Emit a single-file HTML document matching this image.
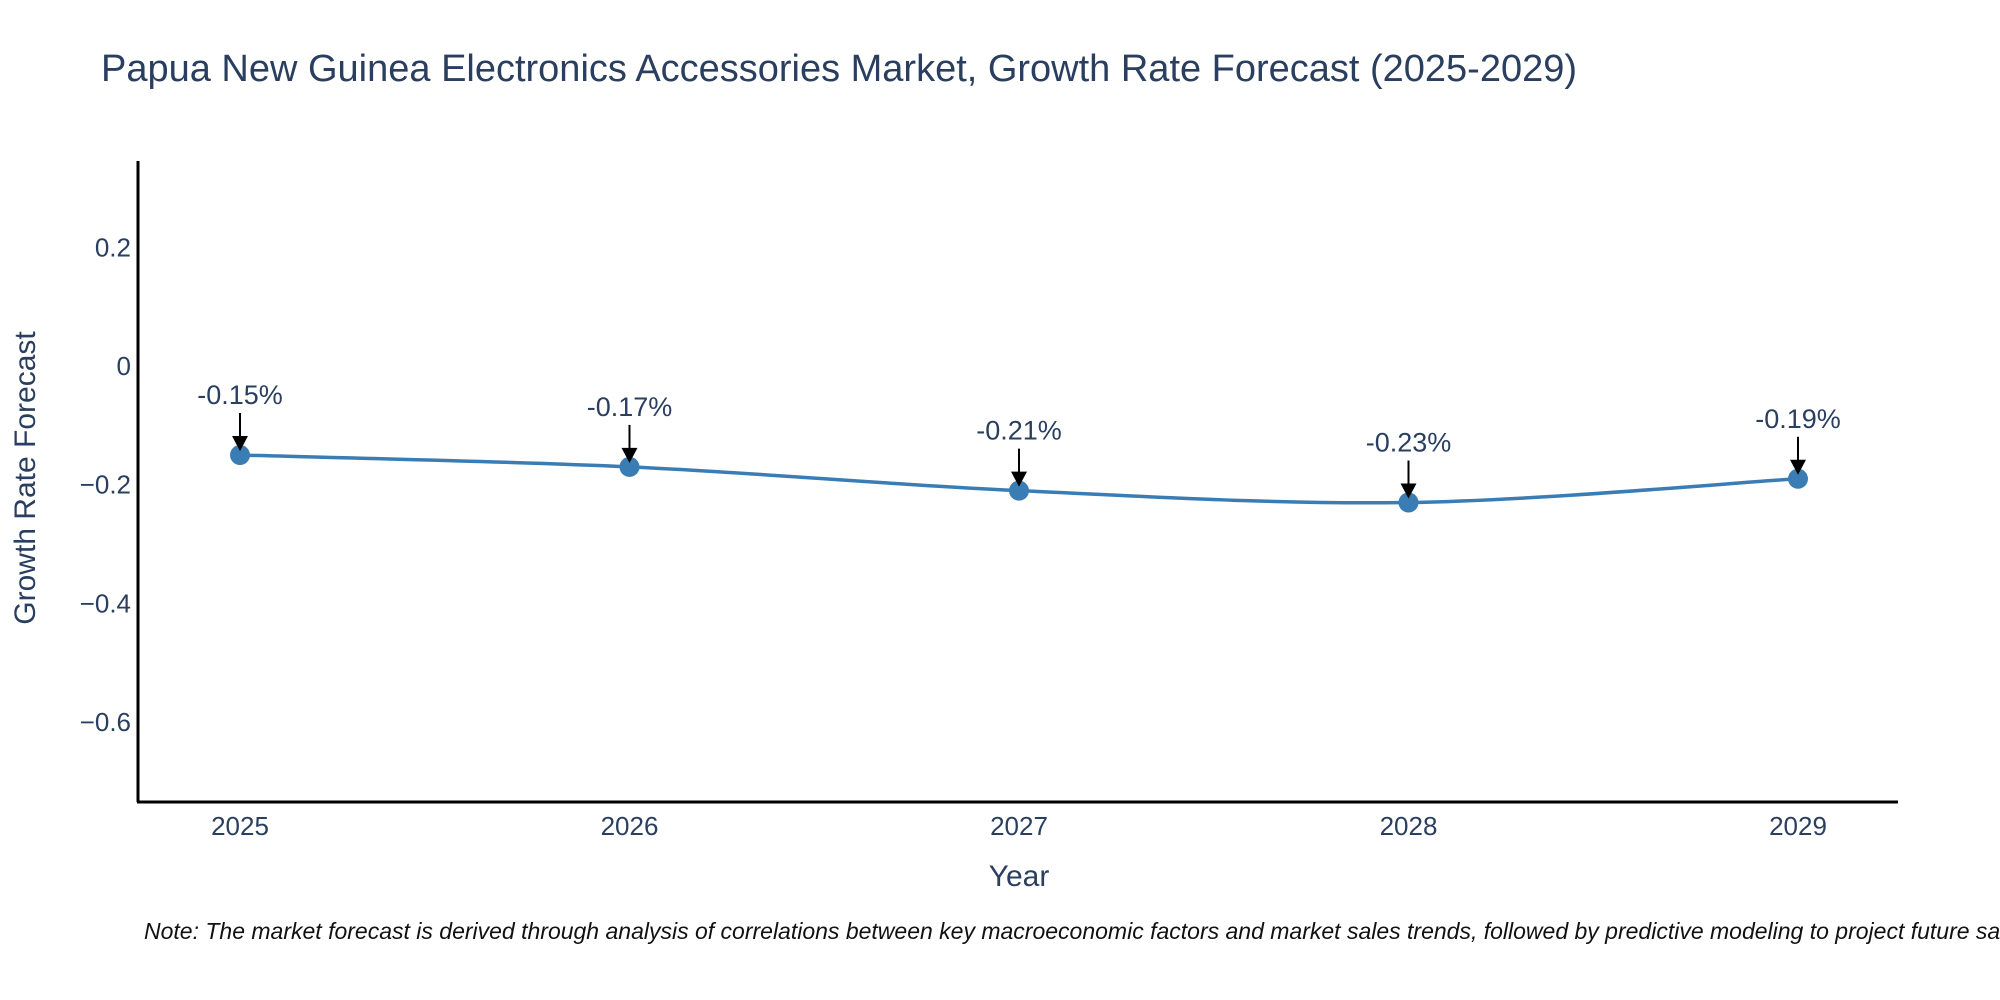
<!DOCTYPE html>
<html><head><meta charset="utf-8"><style>
html,body{margin:0;padding:0;background:#fff;overflow:hidden;}
svg{display:block;font-family:"Liberation Sans",sans-serif;}
</style></head><body>
<svg id="chart" width="2000" height="1000" viewBox="0 0 2000 1000">
<text x="101" y="81" font-size="38" fill="#2a3f5f" textLength="1476">Papua New Guinea Electronics Accessories Market, Growth Rate Forecast (2025-2029)</text>
<g id="yticks"></g>
<g id="xticks"></g>
<line x1="138" y1="161" x2="138" y2="802" stroke="#000" stroke-width="3"/>
<line x1="137" y1="802" x2="1898" y2="802" stroke="#000" stroke-width="3"/>
<path id="line" fill="none" stroke="#3a7db5" stroke-width="3.5"/>
<g id="points"></g>
<g id="annots"></g>
<text x="1019" y="886" font-size="30" fill="#2a3f5f" text-anchor="middle">Year</text>
<text transform="translate(35,478) rotate(-90)" font-size="30" fill="#2a3f5f" text-anchor="middle">Growth Rate Forecast</text>
<text x="144" y="939" font-size="23" font-style="italic" fill="#111">Note: The market forecast is derived through analysis of correlations between key macroeconomic factors and market sales trends, followed by predictive modeling to project future sales.</text>
</svg>
<script>
const years = [2025, 2026, 2027, 2028, 2029];
const values = [-0.15, -0.17, -0.21, -0.23, -0.19];
const labels = ["-0.15%", "-0.17%", "-0.21%", "-0.23%", "-0.19%"];
const yTicks = [0.2, 0, -0.2, -0.4, -0.6];
const yTickLabels = ["0.2", "0", "\u22120.2", "\u22120.4", "\u22120.6"];

const NS = "http://www.w3.org/2000/svg";
const xs = y => 240 + (y - 2025) * 389.5;
const ys = v => 366 - v * 593.5;
function mk(tag, attrs, parent, txt){
  const e = document.createElementNS(NS, tag);
  for (const k in attrs) e.setAttribute(k, attrs[k]);
  if (txt !== undefined) e.textContent = txt;
  parent.appendChild(e); return e;
}
const yt = document.getElementById('yticks');
yTicks.forEach((t,i)=>{
  const e = mk('text',{x:131,y:ys(t)+9,'font-size':26,fill:'#2a3f5f','text-anchor':'end'},yt,yTickLabels[i]);
  
  
});
const xt = document.getElementById('xticks');
years.forEach(y=>{
  const e = mk('text',{x:xs(y),y:835,'font-size':26,fill:'#2a3f5f','text-anchor':'middle'},xt,String(y));
  
  
});
const P = years.map((y,i)=>[xs(y), ys(values[i])]);
let d = `M${P[0][0]},${P[0][1]}`;
for (let i=0;i<P.length-1;i++){
  const p0=P[Math.max(i-1,0)], p1=P[i], p2=P[i+1], p3=P[Math.min(i+2,P.length-1)];
  const s=0.33;
  const c1=[p1[0]+(p2[0]-p0[0])*s/2, p1[1]+(p2[1]-p0[1])*s/2];
  const c2=[p2[0]-(p3[0]-p1[0])*s/2, p2[1]-(p3[1]-p1[1])*s/2];
  d += ` C${c1[0]},${c1[1]} ${c2[0]},${c2[1]} ${p2[0]},${p2[1]}`;
}
document.getElementById('line').setAttribute('d', d);
const pts = document.getElementById('points');
const an = document.getElementById('annots');
P.forEach((p,i)=>{
  const c = mk('circle',{cx:p[0],cy:p[1],r:10,fill:'#3a7db5'},pts);
  
  
  const l = mk('line',{x1:p[0],y1:p[1]-42,x2:p[0],y2:p[1]-16,stroke:'#000','stroke-width':2},an);
  
  
  const h = mk('polygon',{points:`${p[0]-8},${p[1]-19} ${p[0]+8},${p[1]-19} ${p[0]},${p[1]-4}`,fill:'#000'},an);
  
  
  const t = mk('text',{x:p[0],y:p[1]-51,'font-size':27,fill:'#2a3f5f','text-anchor':'middle'},an,labels[i]);
  
  
});
</script>
</body></html>
